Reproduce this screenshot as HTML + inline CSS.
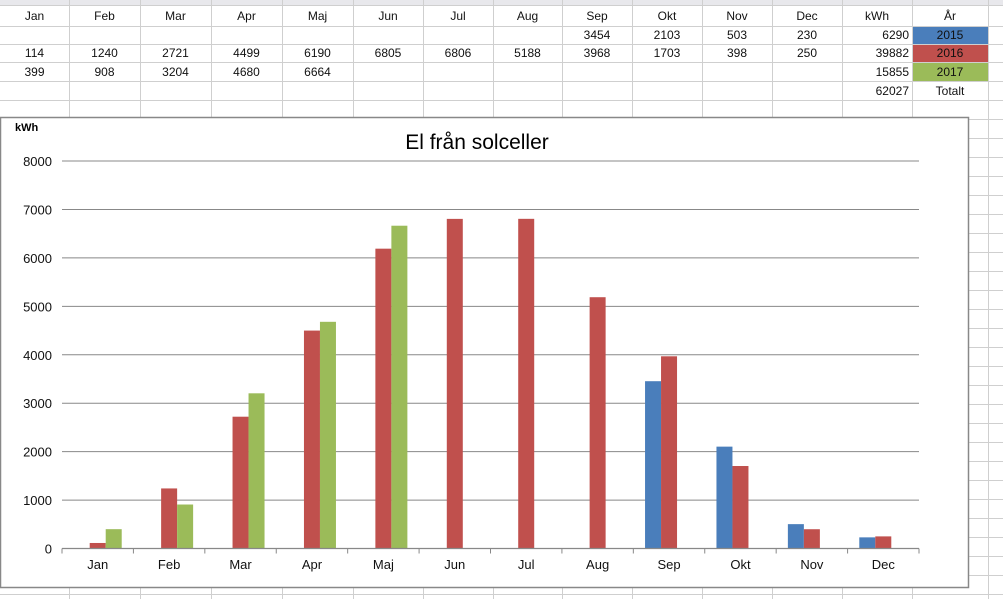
<!DOCTYPE html>
<html><head><meta charset="utf-8"><style>
body{margin:0;width:1003px;height:599px;overflow:hidden;background:#fff;font-family:"Liberation Sans",sans-serif;position:relative}
svg{position:absolute;left:0;top:0}
</style></head><body>
<svg width="1003" height="599" font-family="Liberation Sans, sans-serif">
<g id="grid" stroke="#cfcfcf" stroke-width="1"></g>
<g id="cells" font-size="12" fill="#111"></g>
<g id="chart"></g>
</svg>
<script>
const months=["Jan","Feb","Mar","Apr","Maj","Jun","Jul","Aug","Sep","Okt","Nov","Dec"];
const s2015=[null,null,null,null,null,null,null,null,3454,2103,503,230];
const s2016=[114,1240,2721,4499,6190,6805,6806,5188,3968,1703,398,250];
const s2017=[399,908,3204,4680,6664,null,null,null,null,null,null,null];
const yTicks=[0,1000,2000,3000,4000,5000,6000,7000,8000];
const totals=[6290,39882,15855,62027];
const yearLabels=["2015","2016","2017","Totalt"];
const NS="http://www.w3.org/2000/svg";
function mk(p,t,a,txt){const e=document.createElementNS(NS,t);for(const k in a)e.setAttribute(k,a[k]);if(txt!=null)e.textContent=txt;p.appendChild(e);return e;}
const grid=document.getElementById('grid'),cells=document.getElementById('cells'),chart=document.getElementById('chart');
// grid
mk(grid,'rect',{x:0,y:0,width:1003,height:5,fill:'#e8e8ec',stroke:'none'});
const cols=[69,140,211,282,353,423,493,562,632,702,772,842,912,988];
cols.forEach(x=>mk(grid,'line',{x1:x+.5,y1:0,x2:x+.5,y2:599}));
const rows=[5,26,44,62,81,100,119];
for(let y=138;y<599;y+=19)rows.push(y);
rows.forEach(y=>mk(grid,'line',{x1:0,y1:y+.5,x2:1003,y2:y+.5}));
// table
const colL=[0].concat(cols);
const rowY=[20,39,57,76,95];
months.forEach((m,i)=>{const cx=(colL[i]+colL[i+1])/2;
 const t=mk(cells,'text',{x:cx,y:rowY[0],'text-anchor':'middle'},m);
 [s2015,s2016,s2017].forEach((s,j)=>{if(s[i]!=null){const c=mk(cells,'text',{x:cx,y:rowY[j+1],'text-anchor':'middle'},s[i]);}});
});
mk(cells,'text',{x:877,y:rowY[0],'text-anchor':'middle'},'kWh');
mk(cells,'text',{x:950,y:rowY[0],'text-anchor':'middle'},'År');
const yc=['#4a7ebb','#c0504d','#9bbb59',null];
totals.forEach((v,j)=>{
 mk(cells,'text',{x:909,y:rowY[j+1],'text-anchor':'end'},v);
 if(yc[j])mk(cells,'rect',{x:913,y:rows[j+1]+1,width:75,height:rows[j+2]-rows[j+1]-1,fill:yc[j]});
 const t=mk(cells,'text',{x:950,y:rowY[j+1],'text-anchor':'middle'},yearLabels[j]);
});
// chart
const box=mk(chart,'rect',{x:0.5,y:117.5,width:968,height:470,fill:'#fff',stroke:'#888','stroke-width':1.5});

const x0=62,x1=919,y0=548.5,yMax=8000,yTop=161;
const yS=v=>y0-(v/yMax)*(y0-yTop);
const cw=(x1-x0)/months.length;
const xC=i=>x0+cw*(i+0.5);
yTicks.forEach(v=>{
 if(v>0){const g=mk(chart,'line',{x1:x0,y1:yS(v),x2:x1,y2:yS(v),stroke:'#888','stroke-width':1});}
 const l=mk(chart,'text',{x:52,y:yS(v)+5,'text-anchor':'end','font-size':13,fill:'#111'},v);
});
const bw=16;
[s2015,s2016,s2017].forEach((s,j)=>s.forEach((v,i)=>{if(v==null)return;
 const b=mk(chart,'rect',{x:xC(i)-24+j*bw,y:yS(v),width:bw,height:y0-yS(v),fill:yc[j]});
 
}));
const ax=mk(chart,'line',{x1:x0,y1:y0,x2:x1,y2:y0,stroke:'#888','stroke-width':1.2});
for(let i=0;i<=months.length;i++)mk(chart,'line',{x1:x0+cw*i,y1:y0,x2:x0+cw*i,y2:y0+5,stroke:'#888'});
months.forEach((m,i)=>{const t=mk(chart,'text',{x:xC(i),y:569,'text-anchor':'middle','font-size':13,fill:'#111'},m);});
const ti=mk(chart,'text',{x:477,y:149,'text-anchor':'middle','font-size':21,fill:'#000'},'El från solceller');
const yt=mk(chart,'text',{x:15,y:131,'font-size':11,'font-weight':'bold',fill:'#000'},'kWh');
</script>
</body></html>
